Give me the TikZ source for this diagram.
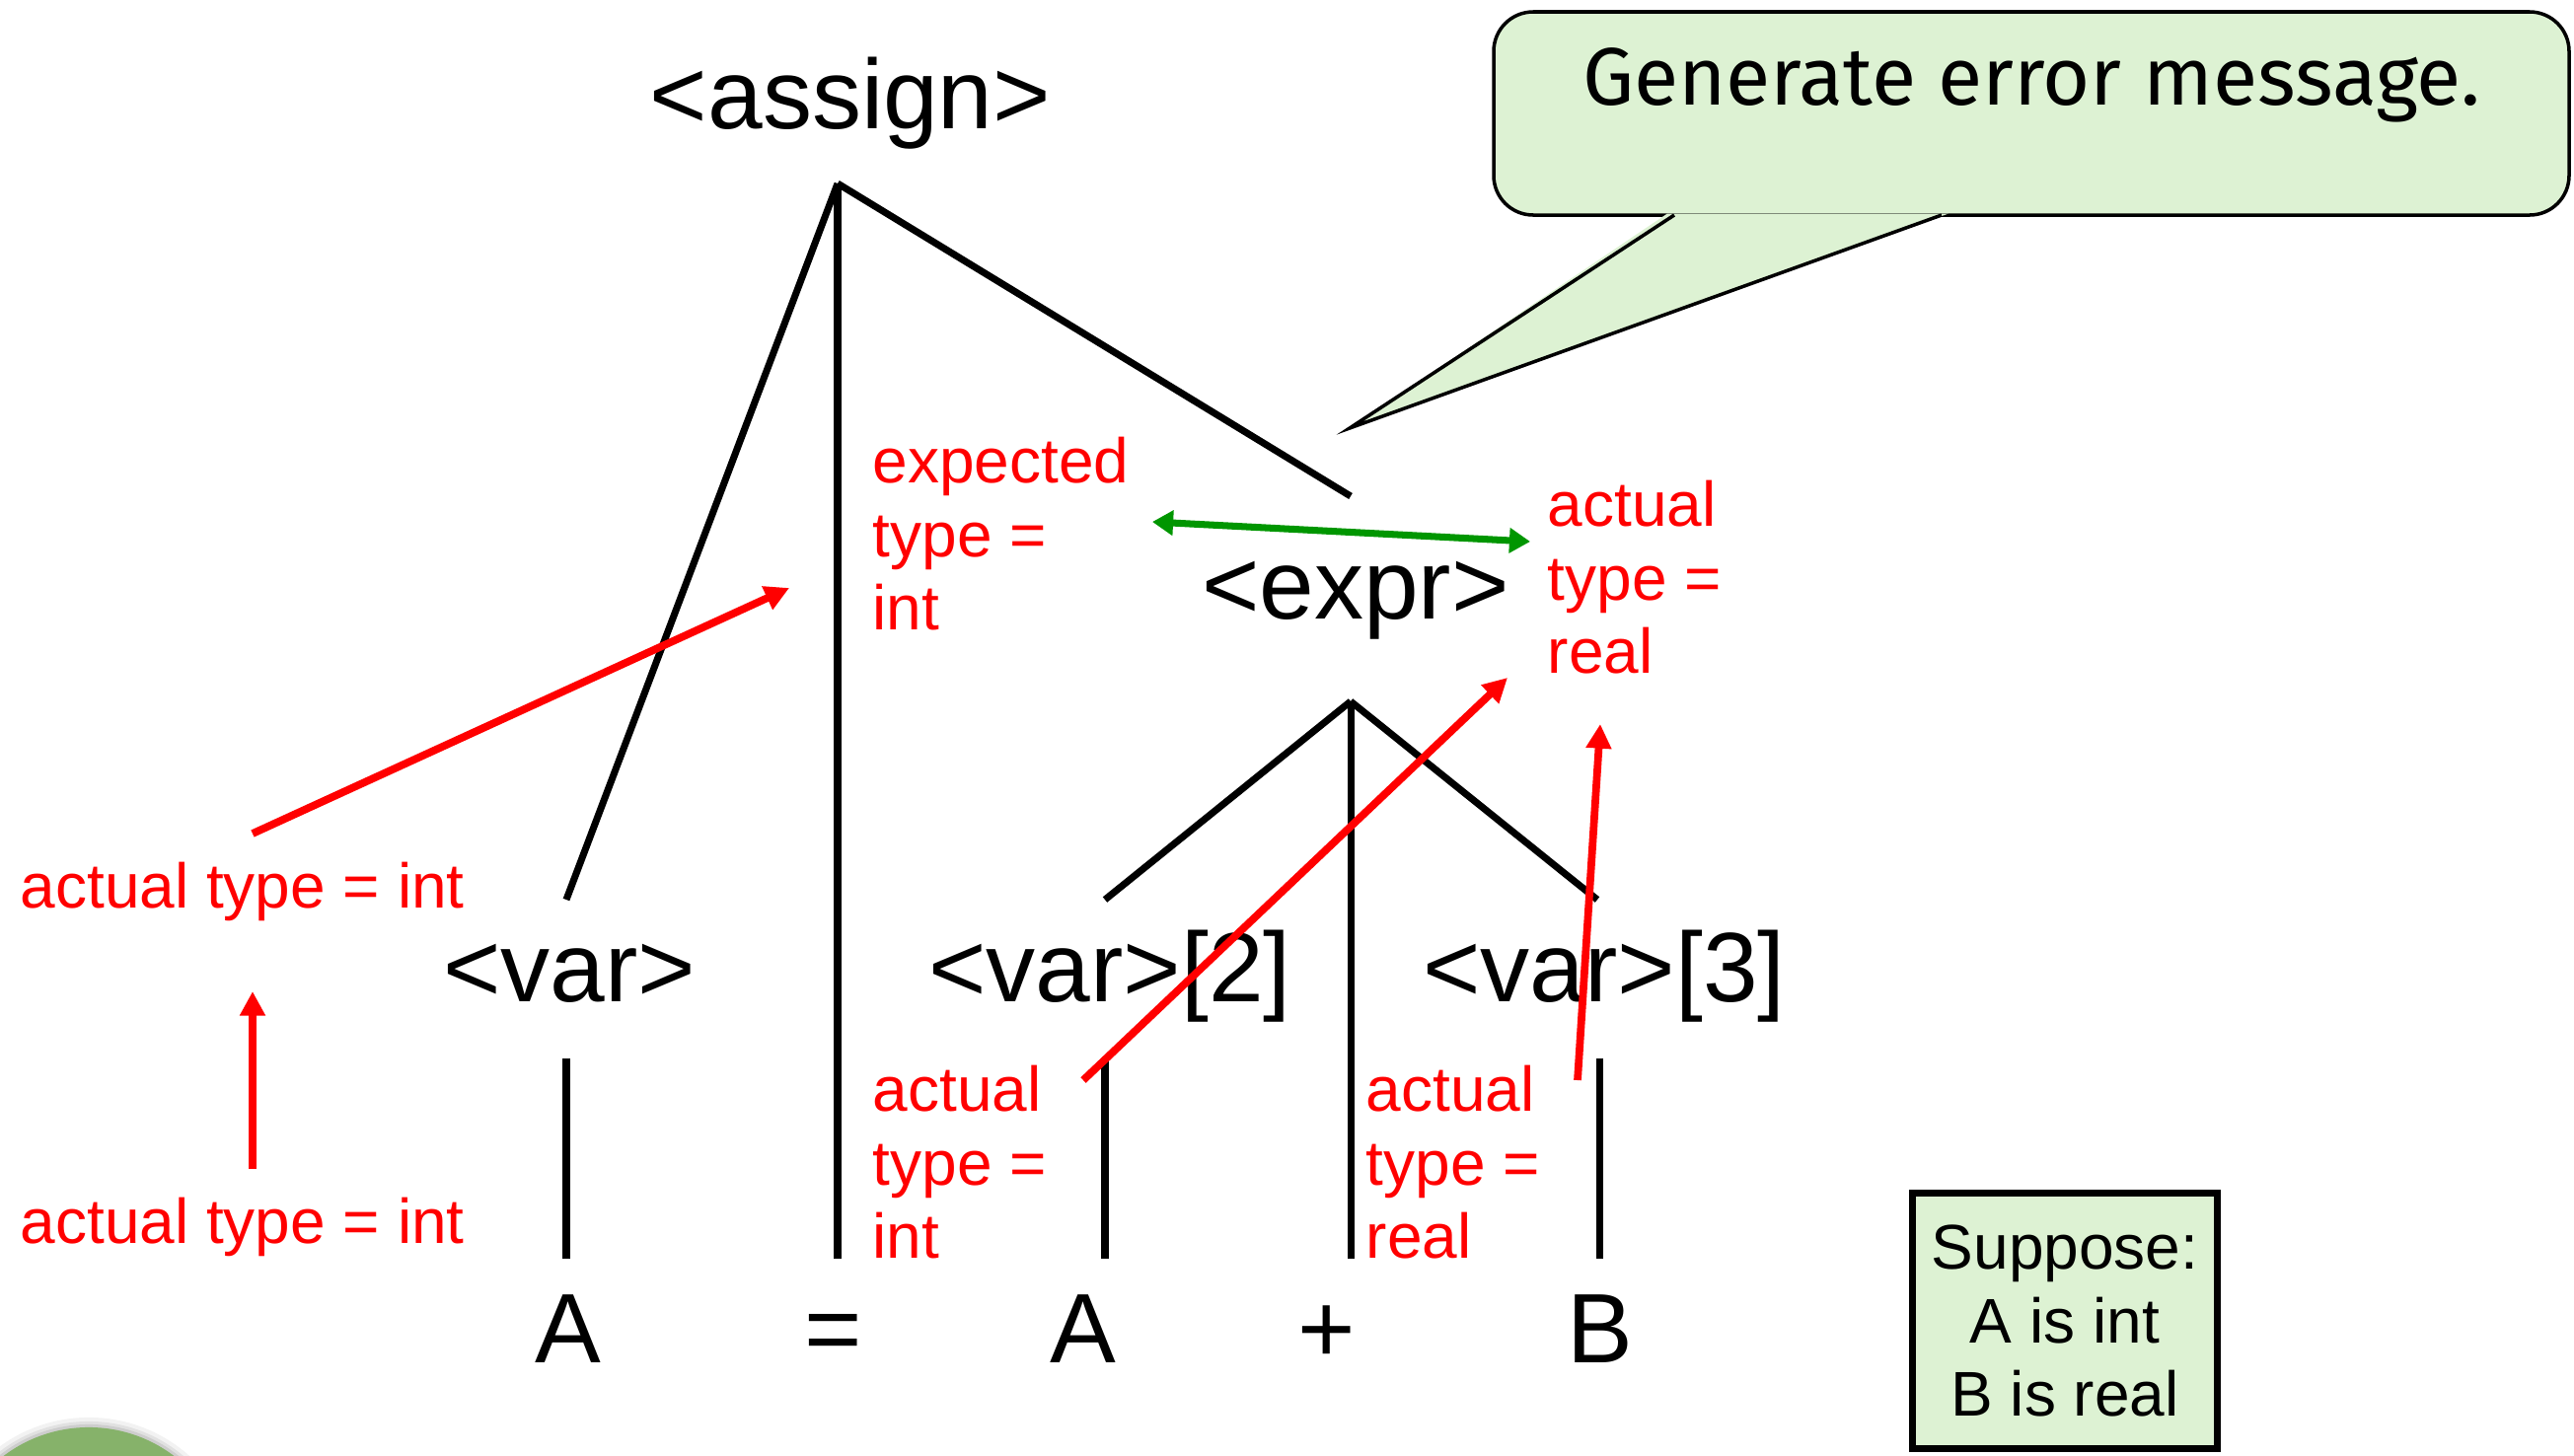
\documentclass[tikz,border=0pt]{standalone}
\usepackage{fontspec}
\setmainfont{Liberation Sans}
\newfontfamily\handfont{Fira Sans}
\usetikzlibrary{arrows.meta}
\definecolor{calloutfill}{RGB}{221,242,211}
\definecolor{redtxt}{RGB}{255,0,0}
\definecolor{greenarr}{RGB}{0,150,0}
\definecolor{disc}{RGB}{134,178,106}
\tikzset{
  blk/.style={font=\fontsize{28.45}{34}\selectfont, inner sep=0pt, anchor=base},
  redlbl/.style={font=\fontsize{18.2}{21.3}\selectfont, text=redtxt, inner sep=0pt, align=left},
  treeline/.style={line width=2pt, black},
  redarrow/.style={line width=2.2pt, redtxt, -{Triangle[length=7pt,width=7pt]}},
  greenarrow/.style={line width=2pt, greenarr, {Triangle[length=6pt,width=7pt]}-{Triangle[length=6pt,width=7pt]}},
  supbox/.style={draw=black, line width=2pt, fill=calloutfill, align=center,
    minimum width=3.09cm, minimum height=2.58cm, inner sep=0pt,
    font=\fontsize{18.2}{21.3}\selectfont}
}
\begin{document}
\begin{tikzpicture}[x=0.01cm,y=-0.01cm]
\useasboundingbox (0,0) rectangle (2609,1475);
\clip (0,0) rectangle (2609,1475);

% green disc at bottom left
\fill[black,opacity=0.05] (90,1590) circle[radius=1.53cm];
\fill[black,opacity=0.07] (90,1590) circle[radius=1.49cm];
\fill[black,opacity=0.09] (90,1590) circle[radius=1.46cm];
\fill[disc] (90,1590) circle[radius=1.43cm];

% callout: rounded box, then pointer laid over its lower edge
\draw[line width=1pt, fill=calloutfill, rounded corners=0.4cm] (1514,12) rectangle (2604,218);
\fill[calloutfill] (1690,216.5) -- (1368,434) -- (1975,216.5) -- cycle;
\coordinate (ptA) at (1697,218);
\coordinate (ptTip) at (1368,434);
\coordinate (ptB) at (1968,218);
\draw[line width=1pt, line join=miter] (ptA) -- (ptTip) -- (ptB);
\node[font=\handfont\fontsize{23.5}{28}\selectfont, inner sep=0pt, anchor=base] (msg) at (2059,106) {Generate error message.};

% tree nodes
\node[blk] (assign) at (862,130) {<assign>};
\node[blk] (expr) at (1374,627) {<expr>};
\node[blk] (var1) at (577,1015) {<var>};
\node[blk] (var2) at (1125,1015) {<var>[2]};
\node[blk] (var3) at (1626,1015) {<var>[3]};
\node[blk] (lA) at (576,1381) {A};
\node[blk] (leq) at (845,1381) {=};
\node[blk] (lA2) at (1098,1381) {A};
\node[blk] (lplus) at (1345,1381) {+};
\node[blk] (lB) at (1622,1381) {B};

% tree line endpoints
\coordinate (aApex) at (849,186);
\coordinate (aVar) at (574,912);
\coordinate (aEq) at (849,1276);
\coordinate (aExpr) at (1369,503);
\coordinate (eApex) at (1369,711);
\coordinate (eVar2) at (1120,912);
\coordinate (ePlus) at (1369,1276);
\coordinate (eVar3) at (1619,912);
\coordinate (v1top) at (574,1073);
\coordinate (v1bot) at (574,1276);
\coordinate (v2top) at (1120,1073);
\coordinate (v2bot) at (1120,1276);
\coordinate (v3top) at (1621,1073);
\coordinate (v3bot) at (1621,1276);

\draw[treeline] (aApex) -- (aVar);
\draw[treeline] (aApex) -- (aEq);
\draw[treeline] (aApex) -- (aExpr);
\draw[treeline] (eApex) -- (eVar2);
\draw[treeline] (eApex) -- (ePlus);
\draw[treeline] (eApex) -- (eVar3);
\draw[treeline] (v1top) -- (v1bot);
\draw[treeline] (v2top) -- (v2bot);
\draw[treeline] (v3top) -- (v3bot);

% red labels
\node[redlbl, anchor=north west] (expected) at (884,442) {expected\\type =\\int};
\node[redlbl, anchor=north west] (actreal) at (1568,486) {actual\\type =\\real};
\node[redlbl, anchor=base west] (actvar) at (20,920) {actual type = int};
\node[redlbl, anchor=base west] (actA) at (20,1260) {actual type = int};
\node[redlbl, anchor=north west] (actA2) at (884,1079) {actual\\type =\\int};
\node[redlbl, anchor=north west] (actB) at (1384,1079) {actual\\type =\\real};

% arrow endpoints
\coordinate (r1s) at (256,845);
\coordinate (r1e) at (800,596);
\coordinate (r2s) at (256,1185);
\coordinate (r2e) at (256,1005);
\coordinate (r3s) at (1098,1095);
\coordinate (r3e) at (1528,687);
\coordinate (r4s) at (1599,1095);
\coordinate (r4e) at (1622,734);
\coordinate (g1) at (1168,529);
\coordinate (g2) at (1551,549);

\draw[redarrow] (r1s) -- (r1e);
\draw[redarrow] (r2s) -- (r2e);
\draw[redarrow] (r3s) -- (r3e);
\draw[redarrow] (r4s) -- (r4e);
\draw[greenarrow] (g1) -- (g2);

% suppose box
\node[supbox] (suppose) at (2093,1339) {Suppose:\\A is int\\B is real};
\end{tikzpicture}
\end{document}
